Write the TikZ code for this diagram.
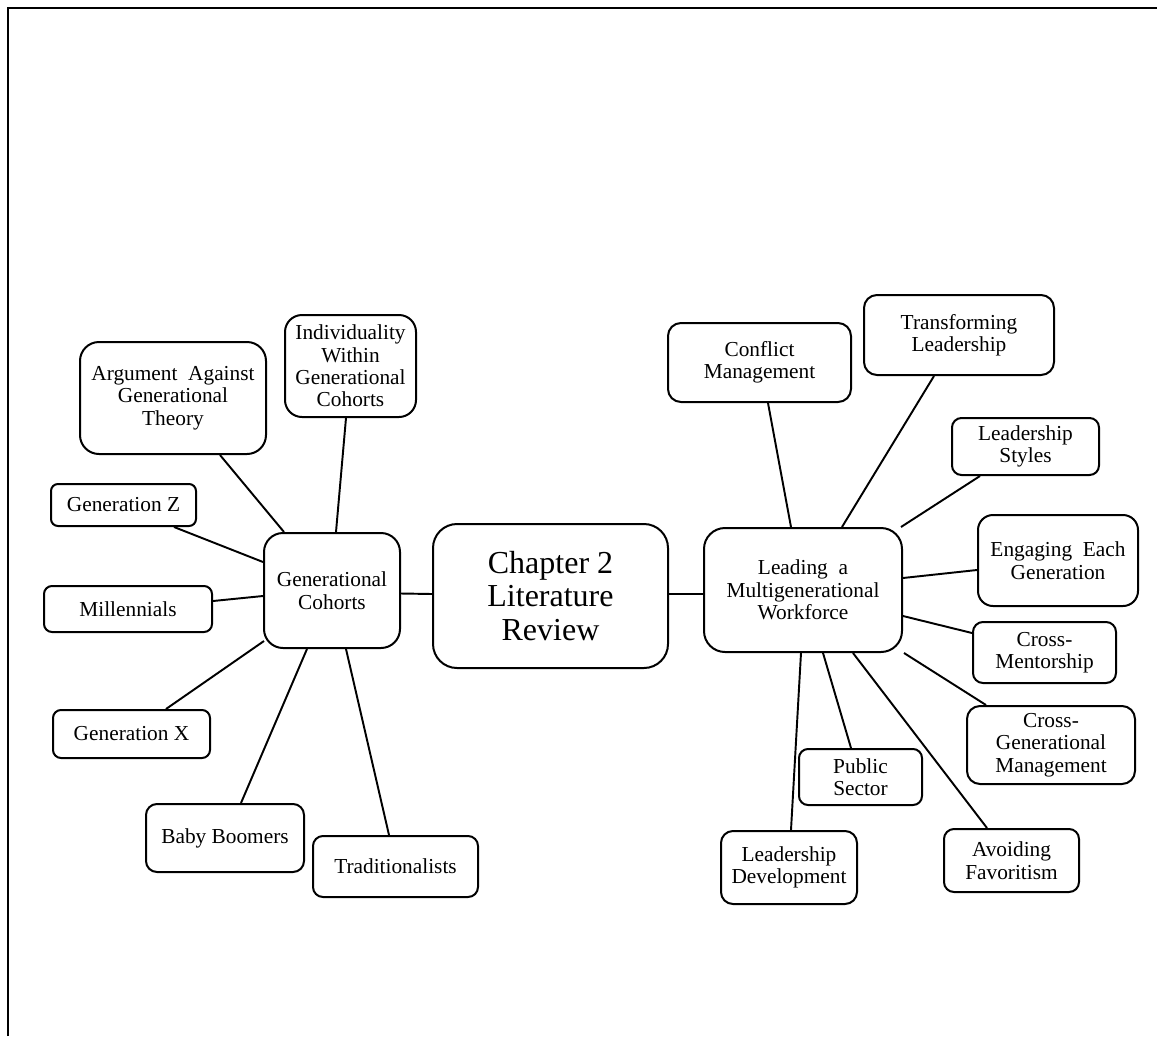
\documentclass[tikz,border=0pt]{standalone}
\usepackage{fontspec}
\setmainfont{Liberation Serif}
\usetikzlibrary{calc}
\tikzset{
  bx/.style n args={3}{draw, line width=1.5pt, rounded corners=#3*0.75pt,
    minimum width=#1*0.75pt, minimum height=#2*0.75pt, inner sep=0pt,
    align=center, font=\fontsize{16}{16.8}\selectfont},
  conn/.style={line width=1.45pt},
  frame/.style={line width=1.7pt},
}
\begin{document}
\begin{tikzpicture}[x=0.75pt,y=-0.75pt]
\useasboundingbox (0,0) rectangle (1157,1036);
% frame
\coordinate (fa) at (8,1036);
\coordinate (fb) at (8,8);
\coordinate (fc) at (1157,8);
\draw[frame] (fa) -- (fb) -- (fc);

% central
\node[bx={235}{144}{24}, font=\fontsize{24}{25}\selectfont] (ch) at (550.5,596) {Chapter 2\\Literature\\Review};
\node[bx={136}{115}{19}] (gc) at (332,590.5) {Generational\\Cohorts};
\node[bx={198}{124}{21}] (lead) at (803,590) {Leading\ \ a\\Multigenerational\\Workforce};

% left branches
\node[bx={186}{112}{19}] (arg) at (173,398) {Argument\ \ Against\\Generational\\Theory};
\node[bx={131}{102}{17}] (ind) at (350.5,366) {Individuality\\Within\\Generational\\Cohorts};
\node[bx={145}{42}{7}] (genz) at (123.5,505) {Generation Z};
\node[bx={168}{46}{8}] (mil) at (128,609) {Millennials};
\node[bx={157}{48}{8}] (genx) at (131.5,734) {Generation X};
\node[bx={158}{68}{11}] (baby) at (225,838) {Baby Boomers};
\node[bx={165}{61}{10}] (trad) at (395.5,866.5) {Traditionalists};

% right branches
\node[bx={183}{79}{13}] (conf) at (759.5,362.5) {Conflict\\Management};
\node[bx={190}{80}{13}] (trans) at (959,335) {Transforming\\Leadership};
\node[bx={147}{57}{9.5}] (ls) at (1025.5,446.5) {Leadership\\Styles};
\node[bx={160}{91}{15}] (eng) at (1058,560.5) {Engaging\ \ Each\\Generation};
\node[bx={143}{61}{10}] (cm) at (1044.5,652.5) {Cross-\\Mentorship};
\node[bx={168}{78}{13}] (cgm) at (1051,745) {Cross-\\Generational\\Management};
\node[bx={123}{56}{9}] (ps) at (860.5,777) {Public\\Sector};
\node[bx={136}{73}{12}] (ld) at (789,867.5) {Leadership\\Development};
\node[bx={135}{63}{10}] (af) at (1011.5,860.5) {Avoiding\\Favoritism};

% connectors
\draw[conn] ($(gc.east)+(0,3)$) -- ($(ch.west)+(0,-2)$);
\draw[conn] ($(ch.east)+(0,-2)$) -- ($(lead.west)+(0,4)$);

\draw[conn] ($(arg.south)+(47,0)$) -- ($(gc.north)+(-48,0)$);
\draw[conn] ($(ind.south)+(-4.5,0)$) -- ($(gc.north)+(4,0)$);
\draw[conn] ($(genz.south)+(50.5,0)$) -- ($(gc.west)+(0,-28.5)$);
\draw[conn] ($(mil.east)+(0,-8)$) -- ($(gc.west)+(0,5.5)$);
\draw[conn] ($(genx.north)+(34.5,0)$) -- ($(gc.south west)+(1,-8)$);
\draw[conn] ($(baby.north)+(16,0)$) -- ($(gc.south)+(-25,0)$);
\draw[conn] ($(trad.north)+(-6.5,0)$) -- ($(gc.south)+(14,0)$);

\draw[conn] ($(conf.south)+(8.5,0)$) -- ($(lead.north)+(-12,0)$);
\draw[conn] ($(trans.south)+(-25,0)$) -- ($(lead.north)+(39,0)$);
\draw[conn] ($(ls.south)+(-45.5,0)$) -- ($(lead.north east)+(-2,0)$);
\draw[conn] ($(eng.west)+(0,9.5)$) -- ($(lead.east)+(0,-12)$);
\draw[conn] ($(cm.west)+(0,-19.5)$) -- ($(lead.east)+(0,26)$);
\draw[conn] ($(cgm.north)+(-65,0)$) -- ($(lead.south east)+(1,0)$);
\draw[conn] ($(ps.north)+(-9.5,0)$) -- ($(lead.south)+(20,0)$);
\draw[conn] ($(ld.north)+(2,0)$) -- ($(lead.south)+(-2,0)$);
\draw[conn] ($(af.north)+(-24.5,0)$) -- ($(lead.south)+(50,0)$);
\end{tikzpicture}
\end{document}
